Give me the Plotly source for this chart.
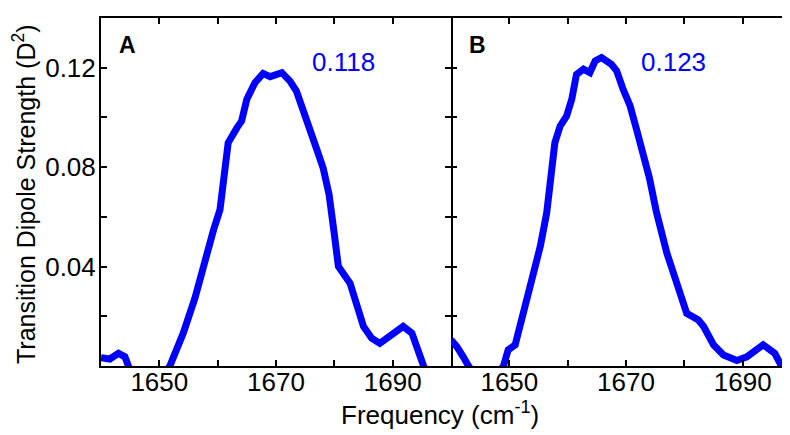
import plotly.graph_objects as go

# ---- data ----
freq_a = [1640, 1641.5, 1643, 1644.1, 1644.7, 1646, 1648, 1650, 1651.8, 1654.1, 1656.1, 1657.8,
          1659.3, 1660.4, 1661, 1661.8, 1663.3, 1664.1, 1665, 1666.4, 1667.8, 1669, 1671,
          1672.4, 1673.5, 1674.7, 1675.8, 1677, 1678.1, 1679.1, 1679.9, 1680.7, 1682.7,
          1683.8, 1685, 1686.4, 1687.8, 1689.8, 1691.8, 1693.3, 1694.1, 1695.3, 1697, 1700]
tds_a = [0.0033, 0.0028, 0.0051, 0.0037, 0.0, -0.006, -0.008, -0.006, 0.0, 0.0132, 0.0273, 0.0427,
         0.0548, 0.0629, 0.0760, 0.0898, 0.0958, 0.0985, 0.1073, 0.1140, 0.1177, 0.1164, 0.1180,
         0.1146, 0.1106, 0.1032, 0.0952, 0.0871, 0.0795, 0.0690, 0.0548, 0.0400, 0.0333,
         0.0253, 0.0159, 0.0112, 0.0091, 0.0125, 0.0159, 0.0132, 0.0078, 0.0, -0.008, -0.012]

freq_b = [1640, 1641, 1642.1, 1643, 1645, 1647, 1649, 1649.8, 1651, 1652.4, 1654.1, 1655.3, 1656.4,
          1657.3, 1657.8, 1658.7, 1659.8, 1660.7, 1661.5, 1662.7, 1663.8, 1664.7, 1665.8,
          1667.5, 1668.4, 1669.5, 1670.7, 1671.8, 1673, 1674, 1675.2, 1677, 1678.7, 1680.4,
          1682.4, 1683.3, 1685, 1686.7, 1689, 1690.7, 1693.5, 1695.5, 1696.4, 1698, 1700]
tds_b = [0.0105, 0.0078, 0.0037, 0.0, -0.006, -0.006, 0.0, 0.0065, 0.0085, 0.0212, 0.0347, 0.0481, 0.0616,
         0.0770, 0.0898, 0.0965, 0.1005, 0.1073, 0.1173, 0.1194, 0.1180, 0.1227, 0.1241,
         0.1214, 0.1187, 0.1113, 0.1046, 0.0952, 0.0858, 0.0757, 0.0620, 0.0454, 0.0333, 0.0212,
         0.0185, 0.0159, 0.0085, 0.0044, 0.0022, 0.0037, 0.0085, 0.0051, 0.0010, -0.006, -0.01]

panel_labels = ["A", "B"]
peak_labels = ["0.118", "0.123"]

x_major = [1650, 1670, 1690]
y_major = [0.04, 0.08, 0.12]

BLUE = "#0000FF"
FONT = "Liberation Sans, Arial, sans-serif"
FS = 26

fig = go.Figure()
fig.add_trace(go.Scatter(x=freq_a, y=tds_a, mode="lines", line=dict(color=BLUE, width=7),
                         xaxis="x", yaxis="y", showlegend=False))
fig.add_trace(go.Scatter(x=freq_b, y=tds_b, mode="lines", line=dict(color=BLUE, width=7),
                         xaxis="x2", yaxis="y2", showlegend=False))

split = 350 / 689
tick_style = dict(ticks="inside", ticklen=6, tickwidth=2, tickcolor="black")
common_x = dict(tickmode="array", tickvals=x_major, showline=True, linewidth=2,
                linecolor="black", mirror="ticks", showgrid=False, zeroline=False,
                ticklabelstandoff=-8,
                minor=dict(tick0=1640, dtick=10, **tick_style),
                tickfont=dict(family=FONT, size=FS, color="black"), **tick_style)
common_y = dict(tickmode="array", tickvals=y_major, linewidth=2,
                linecolor="black", showgrid=False, zeroline=False, range=[0, 0.14],
                minor=dict(tick0=0, dtick=0.02, **tick_style),
                tickfont=dict(family=FONT, size=FS, color="black"), **tick_style)

fig.update_layout(
    width=782, height=427,
    margin=dict(l=93, r=0, t=10, b=69),
    paper_bgcolor="white", plot_bgcolor="white",
    xaxis=dict(domain=[0, split], range=[1640, 1700], anchor="y", **common_x),
    xaxis2=dict(domain=[split, 1], range=[1640, 1698.1], anchor="y2", **common_x),
    yaxis=dict(domain=[0, 1], anchor="x", showline=True, mirror="ticks",
               ticklabelstandoff=-2, **common_y),
    yaxis2=dict(domain=[0, 1], anchor="x2", showline=False, mirror=False,
                showticklabels=False, **common_y),
)

annotations = [
    dict(text="<b>%s</b>" % panel_labels[0], x=1644.5, y=0.129, xref="x", yref="y",
         showarrow=False, font=dict(family=FONT, size=23, color="black")),
    dict(text="<b>%s</b>" % panel_labels[1], x=1644.5, y=0.129, xref="x2", yref="y2",
         showarrow=False, font=dict(family=FONT, size=23, color="black")),
    dict(text=peak_labels[0], x=1681.5, y=0.1224, xref="x", yref="y",
         showarrow=False, font=dict(family=FONT, size=FS, color=BLUE)),
    dict(text=peak_labels[1], x=1678.2, y=0.1224, xref="x2", yref="y2",
         showarrow=False, font=dict(family=FONT, size=FS, color=BLUE)),
    dict(text="Frequency (cm<sup>-1</sup>)", x=(440 - 101) / 689, y=-(413 - 366) / 348,
         xref="paper", yref="paper", showarrow=False, xanchor="center", yanchor="middle",
         font=dict(family=FONT, size=FS, color="black")),
    dict(text="Transition Dipole Strength (D<sup>2</sup>)", x=(24 - 101) / 689, y=(366 - 194) / 348,
         xref="paper", yref="paper", showarrow=False, textangle=-90, xanchor="center",
         yanchor="middle", font=dict(family=FONT, size=25, color="black")),
]
fig.update_layout(annotations=annotations)

fig.write_html("out.html")
